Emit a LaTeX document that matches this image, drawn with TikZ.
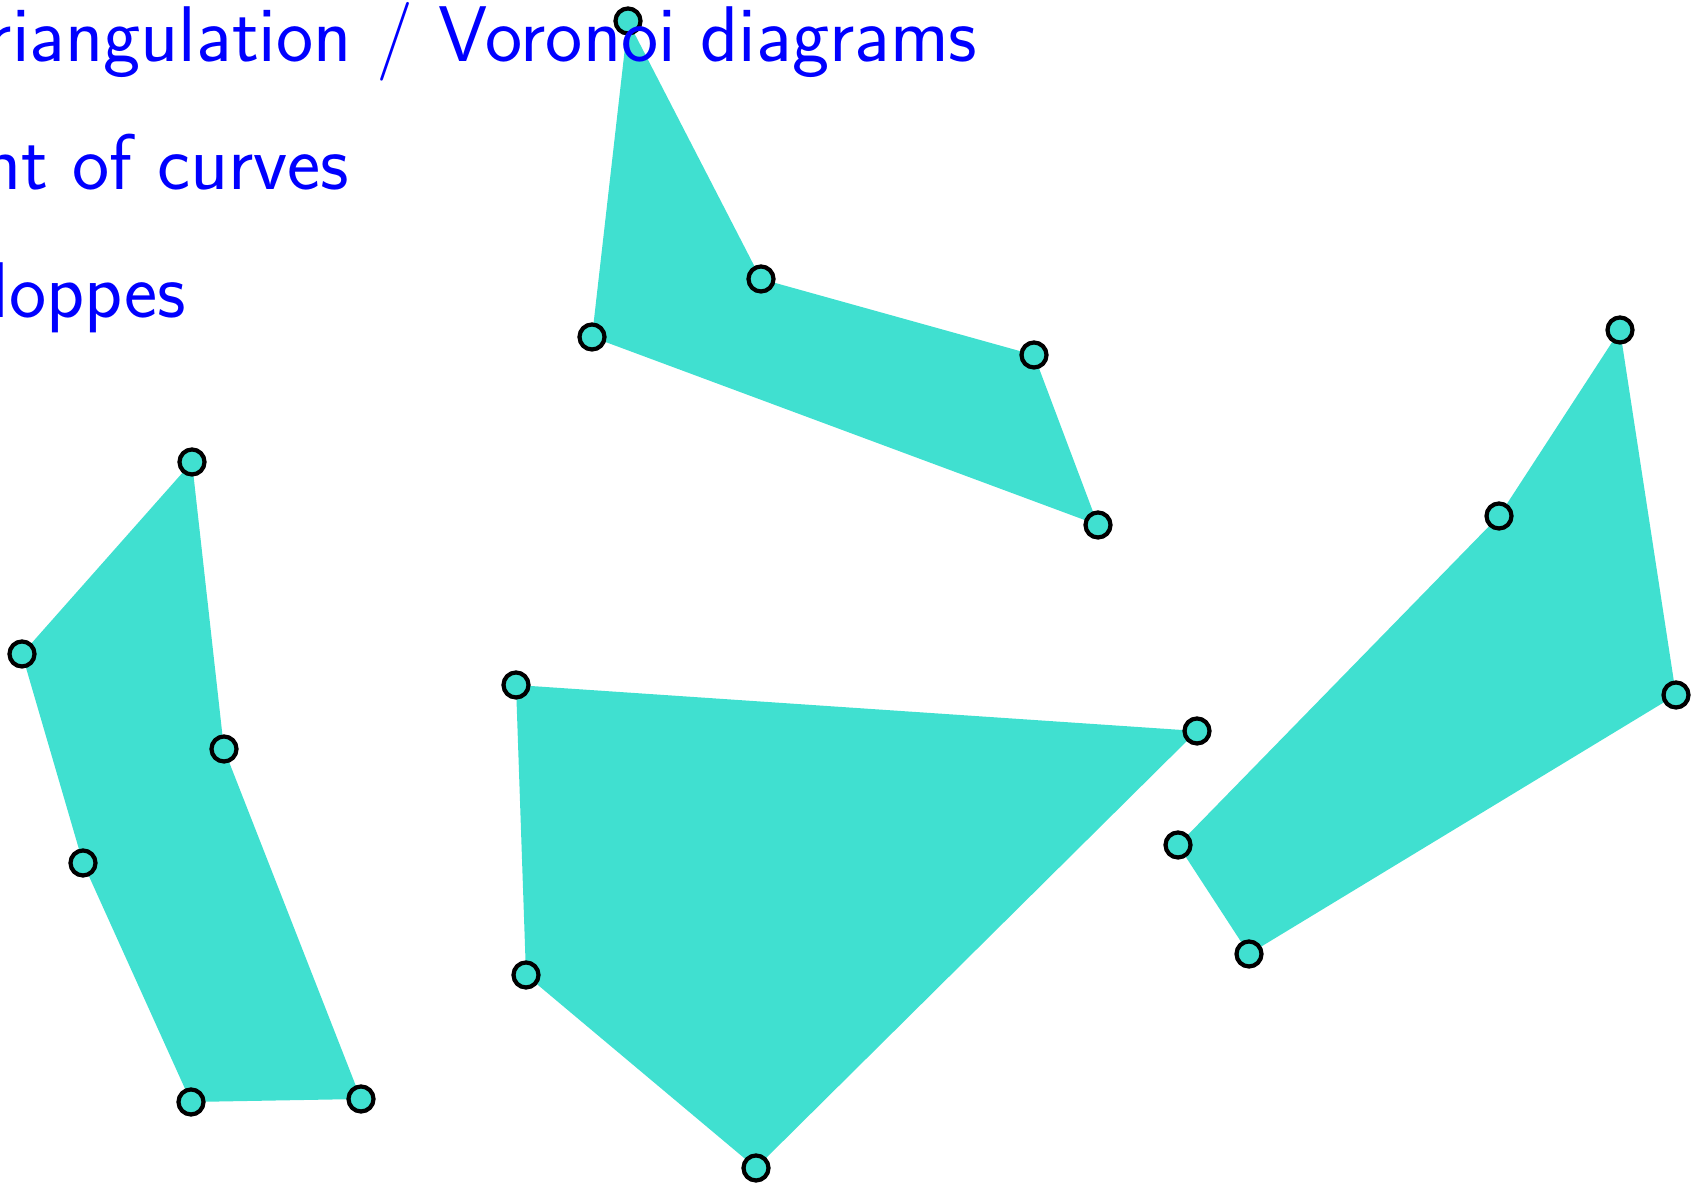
\documentclass[tikz,border=0pt]{standalone}
\definecolor{turq}{RGB}{64,224,208}
\tikzset{
  vertex/.style={circle, draw=black, line width=1.2pt, fill=turq, inner sep=0pt, minimum size=0.25cm},
  item/.style={blue, font=\sffamily\fontsize{22.45}{27}\selectfont, inner sep=0pt, anchor=base east}
}
\begin{document}
\begin{tikzpicture}[x=0.01cm, y=-0.01cm]
    \useasboundingbox (0,0) rectangle (1693,1183);

    % 左边的多边形
    \coordinate (a1) at (192,462);
    \coordinate (a2) at (22,654);
    \coordinate (a3) at (83,863);
    \coordinate (a4) at (191,1102);
    \coordinate (a5) at (361,1099);
    \coordinate (a6) at (224,749);
    \fill[turq] (a1) -- (a2) -- (a3) -- (a4) -- (a5) -- (a6) -- cycle;

    % 上面的多边形
    \coordinate (b1) at (628,21);
    \coordinate (b2) at (592,337);
    \coordinate (b3) at (1098,525);
    \coordinate (b4) at (1034,355);
    \coordinate (b5) at (761,279);
    \fill[turq] (b1) -- (b2) -- (b3) -- (b4) -- (b5) -- cycle;

    % 中间的多边形
    \coordinate (c1) at (516,685);
    \coordinate (c2) at (526,975);
    \coordinate (c3) at (756,1168);
    \coordinate (c4) at (1197,731);
    \fill[turq] (c1) -- (c2) -- (c3) -- (c4) -- cycle;

    % 右边的多边形
    \coordinate (d1) at (1620,330);
    \coordinate (d2) at (1499,516);
    \coordinate (d3) at (1178,845);
    \coordinate (d4) at (1249,954);
    \coordinate (d5) at (1676,695);
    \fill[turq] (d1) -- (d2) -- (d3) -- (d4) -- (d5) -- cycle;

    % 顶点
    \foreach \p in {a1,a2,a3,a4,a5,a6,b1,b2,b3,b4,b5,c1,c2,c3,c4,d1,d2,d3,d4,d5}
        \node[vertex] (v-\p) at (\p) {};

    % 文字
    \node[item] (t1) at (978,62) {riangulation / Voronoi diagrams};
    \node[item] (t2) at (350,190) {nt of curves};
    \node[item] (t3) at (187,318) {loppes};
\end{tikzpicture}
\end{document}
